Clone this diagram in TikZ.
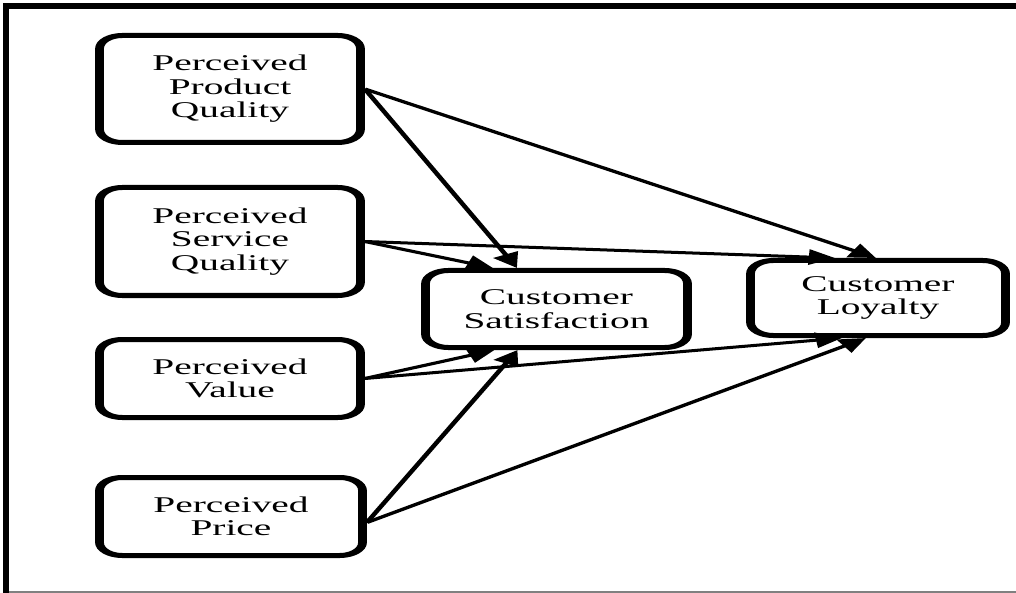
\documentclass[tikz,border=0pt]{standalone}
\usepackage{fontspec}
\newfontfamily\boxfont{Liberation Serif}
\usetikzlibrary{arrows.meta,calc}
\begin{document}
\begin{tikzpicture}[x=1pt,y=-1pt]
\useasboundingbox (0,0) rectangle (1016,593);
\fill[white] (0,0) rectangle (1016,593);
\coordinate (fbl) at (6,593);
\coordinate (ftl) at (6,6);
\coordinate (ftr) at (1016,6);
\coordinate (bbl) at (9,592);
\coordinate (bbr) at (1016,592);
\draw[line width=6pt] (fbl) -- (ftl) -- (ftr);
\draw[gray, line width=1.5pt] (bbl) -- (bbr);
\begin{scope}[transform canvas={xscale=1.75}, x=0.571428pt, y=-1pt,
  box/.style={draw, line width=5pt, rounded corners=13pt, inner sep=0pt, align=center,
    font=\fontsize{22.5}{23.5}\selectfont\boxfont},
  link/.style={line width=3pt, -{Triangle[length=15pt,width=15pt]}}]
\node[box, minimum width=149.1pt, minimum height=107pt] (ppq) at (230,89) {Perceived\\Product\\Quality};
\node[box, minimum width=149.1pt, minimum height=108pt] (psq) at (230,241.5) {Perceived\\Service\\Quality};
\node[box, minimum width=149.1pt, minimum height=78pt] (pv) at (230,378.5) {Perceived\\Value};
\node[box, minimum width=150.3pt, minimum height=78pt] (pp) at (231,516.5) {Perceived\\Price};
\node[box, minimum width=149.7pt, minimum height=77pt] (cs) at (556.5,309) {Customer\\Satisfaction};
\node[box, minimum width=145.7pt, minimum height=75pt] (cl) at (878,298) {Customer\\Loyalty};
\draw[link] (ppq.east) -- ($(cs.north)+(-39.5,0)$);
\draw[link] (ppq.east) -- ($(cl.north)+(-2,0)$);
\draw[link] (psq.east) -- ($(cs.north)+(-63.5,0)$);
\draw[link] (psq.east) -- ($(cl.north)+(-43,0)$);
\draw[link] (pv.east) -- ($(cs.south)+(-62,0)$);
\draw[link] (pv.east) -- ($(cl.south)+(-36,0)$);
\draw[link] ($(pp.east)+(0,6)$) -- ($(cs.south)+(-39,0)$);
\draw[link] ($(pp.east)+(0,6)$) -- ($(cl.south)+(-12,0)$);
\end{scope}
\end{tikzpicture}
\end{document}
